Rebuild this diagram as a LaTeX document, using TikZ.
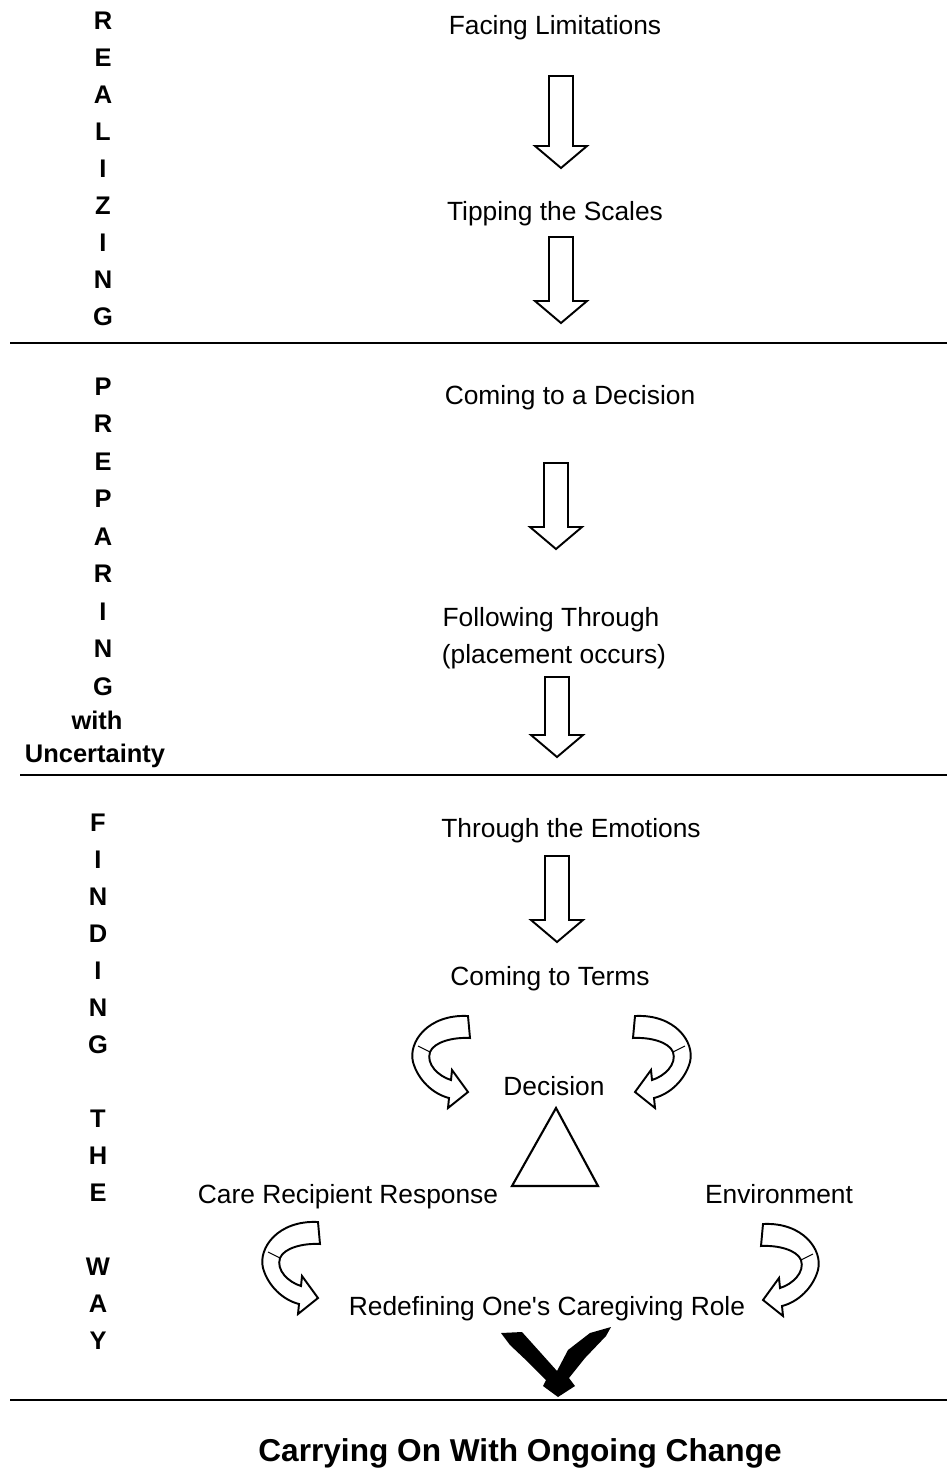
\documentclass[tikz,border=0pt]{standalone}
\usepackage{fontspec}
\setmainfont{Liberation Sans}
\usetikzlibrary{calc}

\newcommand{\blockdown}[2]{%
  \draw[blockline] ($(#1)+(-12,0)$) -- ($(#1)+(12,0)$) -- ($(#2)+(12,-22)$)
    -- ($(#2)+(26,-22)$) -- (#2) -- ($(#2)+(-26,-22)$) -- ($(#2)+(-12,-22)$) -- cycle;}

\begin{document}
\begin{tikzpicture}[x=0.02cm, y=-0.02cm,
    blockline/.style = {draw, line width=1.1pt, fill=white, line join=miter},
    stage/.style = {font=\fontsize{14.5pt}{17pt}\selectfont\bfseries,
      inner sep=0pt, text height=10.4pt, text depth=0pt},
    phase/.style = {font=\fontsize{15pt}{18pt}\selectfont,
      inner sep=0pt, text height=10.7pt, text depth=0pt},
    divider/.style = {line width=1.6pt},
    curl/.pic = {
      \draw[blockline] (0,-76) .. controls (-40,-78) and (-60,-50) .. (-55,-30)
        .. controls (-50,-12) and (-35,2) .. (-19,6) -- (-20,16) -- (0,0)
        -- (-16,-22) -- (-17,-12) .. controls (-30,-16) and (-42,-28) .. (-38,-40)
        .. controls (-34,-50) and (-15,-55) .. (2,-54) -- cycle;
      \draw[line width=0.6pt] (-38,-40) -- (-50,-46);}]
  \useasboundingbox (0,0) rectangle (947,1468);

  \foreach \ch [count=\i from 0] in {R,E,A,L,I,Z,I,N,G}
    \node[stage] (real\i) at (103,{20+37*\i}) {\ch};
  \foreach \ch [count=\i from 0] in {P,R,E,P,A,R,I,N,G}
    \node[stage] (prep\i) at (103,{386+37.5*\i}) {\ch};
  \node[stage] (with) at (97,720) {with};
  \node[stage] (uncert) at (95,753) {Uncertainty};
  \foreach \ch/\yy [count=\i] in {F/822,I/859,N/896,D/933,I/970,N/1007,G/1044,
      T/1118,H/1155,E/1192,W/1266,A/1303,Y/1340}
    \node[stage] (find\i) at (98,\yy) {\ch};

  \draw[divider] (10,343) -- (947,343);
  \draw[divider] (20,775) -- (947,775);
  \draw[divider] (10,1400) -- (947,1400);

  \node[phase] (facing) at (555,25) {Facing Limitations};
  \node[phase] (tipping) at (555,211) {Tipping the Scales};
  \node[phase] (coming) at (570,395) {Coming to a Decision};
  \node[phase] (following) at (551,617) {Following Through};
  \node[phase] (placement) at (554,654) {(placement occurs)};
  \node[phase] (emotions) at (571,828) {Through the Emotions};
  \node[phase] (terms) at (550,976) {Coming to Terms};
  \node[phase] (decision) at (554,1086) {Decision};
  \node[phase] (care) at (348,1194) {Care Recipient Response};
  \node[phase] (environment) at (779,1194) {Environment};
  \node[phase] (redefining) at (547,1306) {Redefining One\textquotesingle s Caregiving Role};
  \node[stage, font=\fontsize{18pt}{21pt}\selectfont\bfseries, text height=12.9pt]
    (carrying) at (520,1450) {Carrying On With Ongoing Change};

  \coordinate (t1) at (561,76);  \coordinate (h1) at (561,168);
  \coordinate (t2) at (561,237); \coordinate (h2) at (561,323);
  \coordinate (t3) at (556,463); \coordinate (h3) at (556,549);
  \coordinate (t4) at (557,677); \coordinate (h4) at (557,757);
  \coordinate (t5) at (557,856); \coordinate (h5) at (557,942);
  \blockdown{t1}{h1}
  \blockdown{t2}{h2}
  \blockdown{t3}{h3}
  \blockdown{t4}{h4}
  \blockdown{t5}{h5}

  \pic at (468,1092) {curl};
  \pic[xscale=-1] at (635,1092) {curl};
  \pic at (318,1298) {curl};
  \pic[xscale=-1] at (763,1300) {curl};

  \draw[line width=1.2pt] (556,1108) -- (598,1186) -- (512,1186) -- cycle;

  \fill (501,1333) -- (522,1332) -- (540,1352) -- (557,1371) -- (568,1350)
    -- (590,1333) -- (611,1327) -- (606,1336) -- (585,1358) -- (569,1378)
    -- (575,1386) -- (558,1397) -- (543,1386) -- (546,1380) -- (528,1362)
    -- (510,1345) -- cycle;
\end{tikzpicture}
\end{document}
